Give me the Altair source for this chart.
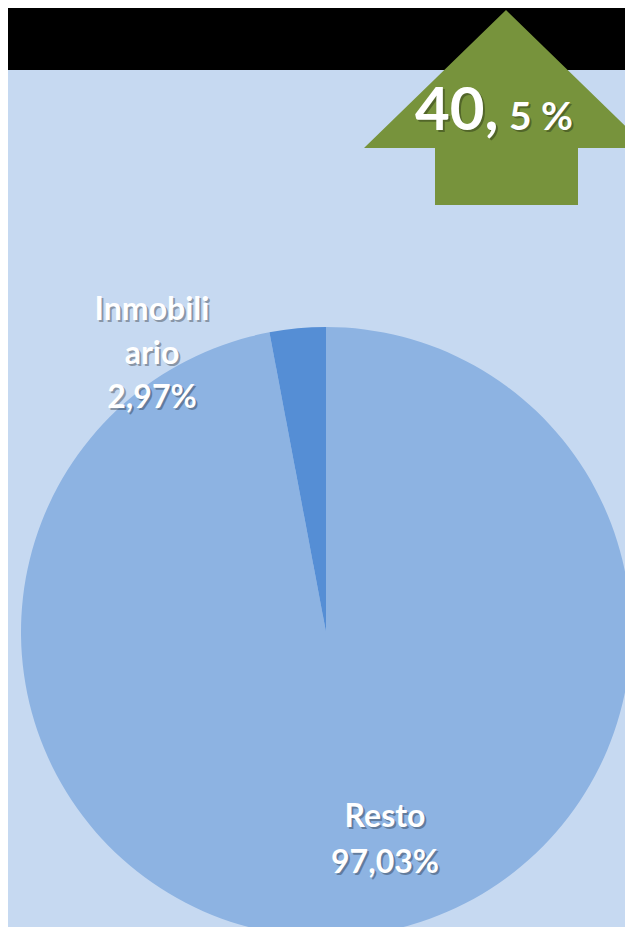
import altair as alt
import pandas as pd

# ---- data ----
categories = ["Resto", "Inmobiliario"]
shares = [97.03, 2.97]
label_lines = [["Resto"], ["Inmobili", "ario"]]
slice_colors = ["#8DB3E2", "#558ED5"]
headline_main = "40,"
headline_small = "5 %"

W, H = 617, 919
BG = "#C6D9F1"
GREEN = "#77933C"

df = pd.DataFrame({
    "category": categories,
    "share": shares,
    "order": list(range(len(categories))),
})
df["label"] = [
    "\n".join(lines + [f"{v:.2f}".replace(".", ",") + "%"])
    for lines, v in zip(label_lines, shares)
]
one = pd.DataFrame({"k": [0]})

# ---- decoration ----
band = alt.Chart(one).mark_rect(color="black").encode(
    x=alt.value(0), x2=alt.value(W), y=alt.value(0), y2=alt.value(62)
)

arrow_path = "M0,0 L142,138 L72,138 L72,195 L-71,195 L-71,138 L-142,138 Z"
arrow = alt.Chart(one).mark_point(
    shape=arrow_path, size=4, filled=True, color=GREEN, opacity=1, strokeWidth=0
).encode(x=alt.value(498), y=alt.value(2))

# ---- pie ----
pie = alt.Chart(df).mark_arc(radius=305).encode(
    theta=alt.Theta("share:Q", stack=True),
    color=alt.Color("category:N",
                    scale=alt.Scale(domain=categories, range=slice_colors),
                    legend=None),
    order=alt.Order("order:Q"),
    x=alt.value(318),
    y=alt.value(624),
)


def shadowed(data, text, x, y, size, align="center", line_height=None):
    kw = dict(font="Lato", fontWeight="bold", fontSize=size, align=align,
              baseline="alphabetic")
    if line_height:
        kw.update(lineBreak="\n", lineHeight=line_height)
    shadow = alt.Chart(data).mark_text(color="#000000", opacity=0.3, dx=2, dy=2, **kw).encode(
        x=alt.value(x), y=alt.value(y), text=text)
    front = alt.Chart(data).mark_text(color="white", **kw).encode(
        x=alt.value(x), y=alt.value(y), text=text)
    return [shadow, front]


layers = [band, arrow, pie]
layers += shadowed(one, alt.value(headline_main), 407, 122, 60, align="left")
layers += shadowed(one, alt.value(headline_small), 501, 122, 39, align="left")

inmob = alt.Chart(df).transform_filter(alt.datum.category == "Inmobiliario")
resto = alt.Chart(df).transform_filter(alt.datum.category == "Resto")
df_in = df[df.category == "Inmobiliario"]
df_re = df[df.category == "Resto"]
layers += shadowed(df_in, alt.Text("label:N"), 144, 312, 32, line_height=44)
layers += shadowed(df_re, alt.Text("label:N"), 377, 819, 32, line_height=46)

chart = alt.layer(*layers).properties(
    width=W, height=H,
    autosize=alt.AutoSizeParams(type="none"),
    padding=0,
    background=BG,
).configure_view(stroke=None)

chart.save("out.html", embed_options={"renderer": "svg", "actions": False})
